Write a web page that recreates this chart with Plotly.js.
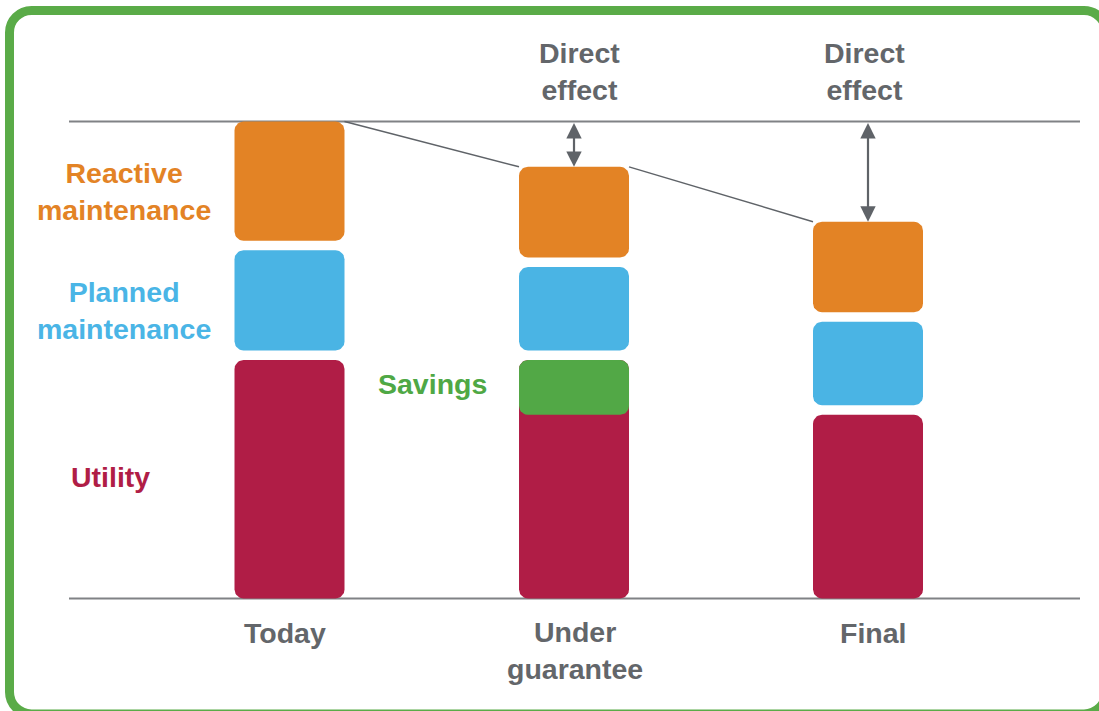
<!DOCTYPE html>
<html>
<head>
<meta charset="utf-8">
<script src="https://cdn.plot.ly/plotly-3.0.1.min.js"></script>
<style>
html,body{margin:0;padding:0;background:#ffffff;}
#chart{width:1099px;height:711px;}
</style>
</head>
<body>
<div id="chart"></div>
<script>
// ---------------- data ----------------
const stages   = ['Today', 'Under<br>guarantee', 'Final'];
const utility  = [50, 38.5, 38.5];
const savings  = [0, 11.5, 0];
const planned  = [21, 17.5, 17.5];
const reactive = [25, 19, 19];
const seriesLabels = {
  utility: 'Utility',
  savings: 'Savings',
  planned: 'Planned<br>maintenance',
  reactive: 'Reactive<br>maintenance'
};
const effectLabel = 'Direct<br>effect';

// ---------------- layout / style ----------------
const W = 1099, H = 711;
const M = {l: 69, r: 19, t: 112, b: 103};
const xr = [-0.76232, 2.73293];
const yr = [-2, 102];
const slotX = [0, 0.9836, 2];
const barW = 0.3803;
const gap = 2;
const R = 9;                 // corner radius in px
const FONT = '"Liberation Sans", Arial, Helvetica, sans-serif';
const C = {
  utility: '#B01D46', savings: '#52A846', planned: '#4AB4E4', reactive: '#E38325',
  text: '#63666A', axis: '#808285', conn: '#5F6368', border: '#5AAB48',
  savingsText: '#4FA845', plannedText: '#4AB5E6'
};

const plotW = W - M.l - M.r, plotH = H - M.t - M.b;
const pxPerX = plotW / (xr[1] - xr[0]);
const pxPerY = plotH / (yr[1] - yr[0]);
const px2p = px => (px - M.l) / plotW;
const py2p = py => (H - M.b - py) / plotH;

// segment extents computed from the data
const utilTop = utility.map((u, i) => u + savings[i]);
const plannedLo = utilTop.map(v => v + gap);
const plannedHi = plannedLo.map((v, i) => v + planned[i]);
const reactiveLo = plannedHi.map(v => v + gap);
const reactiveHi = reactiveLo.map((v, i) => v + reactive[i]);

// a rounded bar segment drawn as a filled path in data space
function segment(i, lo, hi, color, name) {
  const x0 = slotX[i] - barW / 2, x1 = slotX[i] + barW / 2;
  const rx = R / pxPerX, ry = Math.min(R / pxPerY, (hi - lo) / 2);
  const xs = [], ys = [];
  const corners = [
    [x1 - rx, hi - ry, 0], [x0 + rx, hi - ry, 90],
    [x0 + rx, lo + ry, 180], [x1 - rx, lo + ry, 270]
  ];
  const N = 10;
  corners.forEach(([cx, cy, a0]) => {
    for (let k = 0; k <= N; k++) {
      const t = (a0 + 90 * k / N) * Math.PI / 180;
      xs.push(cx + rx * Math.cos(t));
      ys.push(cy + ry * Math.sin(t));
    }
  });
  xs.push(xs[0]); ys.push(ys[0]);
  return {
    type: 'scatter', mode: 'lines', x: xs, y: ys, name: name,
    fill: 'toself', fillcolor: color, line: {width: 0, color: color},
    hoverinfo: 'skip', showlegend: false
  };
}

const traces = [];
[0, 1, 2].forEach(i => traces.push(segment(i, 0, utilTop[i], C.utility, 'Utility')));
[0, 1, 2].forEach(i => { if (savings[i] > 0) traces.push(segment(i, utility[i], utilTop[i], C.savings, 'Savings')); });
[0, 1, 2].forEach(i => traces.push(segment(i, plannedLo[i], plannedHi[i], C.planned, 'Planned maintenance')));
[0, 1, 2].forEach(i => traces.push(segment(i, reactiveLo[i], reactiveHi[i], C.reactive, 'Reactive maintenance')));

// shapes
const shapes = [
  {type: 'line', xref: 'paper', yref: 'y', x0: 0, x1: 1, y0: reactiveHi[0], y1: reactiveHi[0],
   line: {color: C.axis, width: 2}, layer: 'below'},
  {type: 'line', xref: 'paper', yref: 'y', x0: 0, x1: 1, y0: 0, y1: 0,
   line: {color: C.axis, width: 2}, layer: 'below'}
];
for (let i = 0; i < 2; i++) {
  shapes.push({type: 'line', xref: 'x', yref: 'y',
    x0: slotX[i] + barW / 2, y0: reactiveHi[i],
    x1: slotX[i + 1] - barW / 2, y1: reactiveHi[i + 1],
    line: {color: C.conn, width: 1.5}});
}
// rounded border frame
(function () {
  const x0 = 9.5, x1 = 1106, y0 = 10.5, y1 = 714, r = 22, k = 0.5523 * r;
  const P = (x, y) => px2p(x).toFixed(5) + ',' + py2p(y).toFixed(5);
  const d = 'M' + P(x0 + r, y0) +
    ' L' + P(x1 - r, y0) +
    ' C' + P(x1 - r + k, y0) + ' ' + P(x1, y0 + r - k) + ' ' + P(x1, y0 + r) +
    ' L' + P(x1, y1 - r) +
    ' C' + P(x1, y1 - r + k) + ' ' + P(x1 - r + k, y1) + ' ' + P(x1 - r, y1) +
    ' L' + P(x0 + r, y1) +
    ' C' + P(x0 + r - k, y1) + ' ' + P(x0, y1 - r + k) + ' ' + P(x0, y1 - r) +
    ' L' + P(x0, y0 + r) +
    ' C' + P(x0, y0 + r - k) + ' ' + P(x0 + r - k, y0) + ' ' + P(x0 + r, y0) + ' Z';
  shapes.push({type: 'path', xref: 'paper', yref: 'paper', path: d,
    line: {color: C.border, width: 9}, fillcolor: 'rgba(0,0,0,0)'});
})();

// annotations
const fnt = (color) => ({family: FONT, size: 28.5, color: color, weight: 700});
const txt = (text, px, py, color) => ({
  text: text, xref: 'paper', yref: 'paper', x: px2p(px), y: py2p(py),
  xanchor: 'center', yanchor: 'middle', showarrow: false, font: fnt(color)
});
const annotations = [
  txt(seriesLabels.reactive, 124, 191.5, C.reactive),
  txt(seriesLabels.planned, 124, 310.5, C.plannedText),
  txt(seriesLabels.utility, 110.5, 477, C.utility),
  txt(seriesLabels.savings, 432, 384.5, C.savingsText),
  txt(effectLabel, 579.5, 71.5, C.text),
  txt(effectLabel, 864, 71.5, C.text),
  txt(stages[0], 285, 632.5, C.text),
  txt(stages[1], 575, 650.5, C.text),
  txt(stages[2], 873, 632.5, C.text)
];
[1, 2].forEach(i => {
  annotations.push({
    text: '', showarrow: true, xref: 'x', yref: 'y', axref: 'x', ayref: 'y',
    x: slotX[i], y: reactiveHi[i], ax: slotX[i], ay: reactiveHi[0],
    arrowhead: 2, startarrowhead: 2, arrowside: 'end+start',
    arrowsize: 1.4, startarrowsize: 1.4, arrowwidth: 2.2, arrowcolor: C.conn,
    standoff: 0, startstandoff: 0
  });
});

const layout = {
  width: W, height: H, margin: M,
  paper_bgcolor: '#ffffff', plot_bgcolor: '#ffffff',
  showlegend: false,
  xaxis: {range: xr, visible: false, fixedrange: true},
  yaxis: {range: yr, visible: false, fixedrange: true},
  shapes: shapes, annotations: annotations,
  font: {family: FONT}
};

Plotly.newPlot('chart', traces, layout, {displayModeBar: false, staticPlot: true});
</script>
</body>
</html>
